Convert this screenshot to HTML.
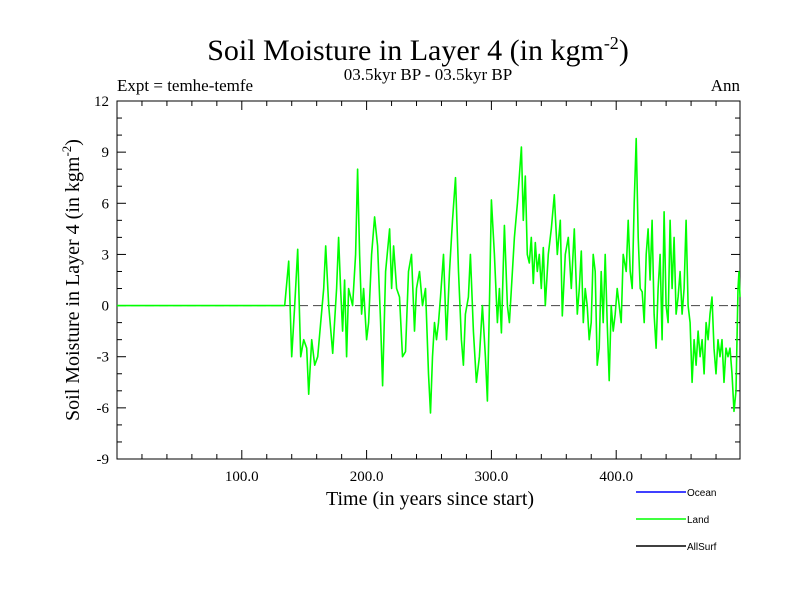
<!DOCTYPE html>
<html><head><meta charset="utf-8"><style>
body{margin:0;background:#fff;}
svg{display:block;font-family:"Liberation Serif",serif;}
</style></head><body>
<svg id="chart" width="800" height="600">
<text x="418" y="60" font-size="30" text-anchor="middle">Soil Moisture in Layer 4 (in kgm<tspan dy="-11" font-size="18">-2</tspan><tspan dy="11">)</tspan></text>
<text x="428" y="80" font-size="17" text-anchor="middle">03.5kyr BP - 03.5kyr BP</text>
<text x="117" y="91" font-size="17">Expt = temhe-temfe</text>
<text x="740" y="91" font-size="17" text-anchor="end">Ann</text>
<text transform="translate(79,280) rotate(-90)" font-size="20" text-anchor="middle">Soil Moisture in Layer 4 (in kgm<tspan dy="-8" font-size="13">-2</tspan><tspan dy="8">)</tspan></text>
<text x="430" y="505" font-size="20" text-anchor="middle">Time (in years since start)</text>
<g id="axes"></g>
<g id="series"></g>
<g font-family="Liberation Sans, sans-serif" font-size="10">
<line x1="636" y1="492" x2="686" y2="492" stroke="#0000ff" stroke-width="1.5"/>
<text x="687" y="496">Ocean</text>
<line x1="636" y1="519" x2="686" y2="519" stroke="#00ff00" stroke-width="1.5"/>
<text x="687" y="523">Land</text>
<line x1="636" y1="546" x2="686" y2="546" stroke="#000" stroke-width="1.5"/>
<text x="687" y="550">AllSurf</text>
</g>
</svg>
<script>
const years=[0,134.4,137.6,140,142.4,144.8,147.2,149.6,152,153.6,156,158.4,160.8,163.2,165.6,167.2,169.6,172.8,176,177.6,179.2,180.8,182.4,184,185.6,188.8,191.2,192.8,194.4,196,197.6,200,201.6,204,206.4,208.8,211.2,212.8,215.2,218.4,220,221.6,224,226.4,228.8,231.2,233.6,236,238.4,240,242.4,244.8,247.2,249.6,251.2,252.8,254.4,256,257.6,259.2,261.6,264,266.4,268.8,271.2,273.6,276,277.6,279.2,281.6,283.2,285.6,288,290.4,292.8,295.2,296.8,298.4,300,302.4,304.8,306.4,308,310.4,312.8,314.4,316,318.4,320.8,324,325.6,327.2,328.8,330.4,332,333.6,335.2,336.8,338.4,340,341.6,343.2,345.6,348,350.4,352.8,355.2,356.8,359.2,361.6,364,366.4,368.8,370.4,372,373.6,375.2,376.8,378.4,380,381.6,383.2,384.8,386.4,388,389.6,391.2,392.8,394.4,396,397.6,399.2,400.8,402.4,404,405.6,408,409.6,411.2,412.8,414.4,416,417.6,419.2,420.8,422.4,424,425.6,427.2,428.8,430.4,432,433.6,435.2,436.8,438.4,440,441.6,443.2,444.8,446.4,448,449.6,451.2,452.8,454.4,456,457.6,459.2,460.8,462.4,464,465.6,467.2,468.8,470.4,472,473.6,475.2,476.8,478.4,480,481.6,483.2,484.8,486.4,488,489.6,491.2,492.8,494.4,496,497.6,498.4,499.2];
const landValues=[0,0,2.6,-3,0,3.3,-3,-2,-2.5,-5.2,-2,-3.5,-3,-1,1,3.5,0,-2.8,1,4,1,-1.5,1.5,-3,1,0,3,8,3,-0.5,1,-2,-1,3,5.2,3.5,-1,-4.7,2,4.5,1,3.5,1,0.5,-3,-2.7,2,3,-1.5,1,2,0,1,-4,-6.3,-3,-1,-2,-1,0.5,3,-2,2,5,7.5,2,-2,-3.5,-0.5,0.5,3,-1.5,-4.5,-3,0,-3,-5.6,0,6.2,3,-1,1,-1.6,4.7,0,-1,1,4,6,9.3,5,7.6,3,2.5,4,1.3,3.7,2,3,1,3.4,0,3,4.5,6.5,3,5,-0.6,3,4,1,4.5,-0.5,1,3.2,-1,1,0,-2,-1,3,2,-3.5,-2.5,2,-1,3,-1,-4.4,0,-1.5,-0.5,1,0,-1,3,2,5,2,1,6,9.8,4,1,0.8,-1,3,4.5,1.5,5,-0.5,-2.5,1,3,-2,5.5,0,-1,5,1,4,-0.5,0.5,2,-0.5,1,5,0,-1,-4.5,-2,-3.5,-1.5,-3,-2,-4,-1,-2,-0.5,0.5,-2.5,-4,-2,-3,-2,-4.5,-2.5,-3,-2.5,-4,-6.2,-5,1,2,0.5];
const yTicks=[-9,-6,-3,0,3,6,9,12];
const xTicks=[100,200,300,400];
const xTickLabels=["100.0","200.0","300.0","400.0"];
const X0=117,X1=740,Y0=101,Y1=459;
const xMin=0,xMax=499.2,yMin=-9,yMax=12;
const sx=v=>X0+(v-xMin)/(xMax-xMin)*(X1-X0);
const sy=v=>Y1-(v-yMin)/(yMax-yMin)*(Y1-Y0);
const NS='http://www.w3.org/2000/svg';
const axes=document.getElementById('axes');
function mk(tag,attrs,parent){const e=document.createElementNS(NS,tag);for(const k in attrs)e.setAttribute(k,attrs[k]);parent.appendChild(e);return e;}
const frame=mk('rect',{x:X0,y:Y0,width:X1-X0,height:Y1-Y0,fill:'none',stroke:'#000','stroke-width':1},axes);


for(let v=yMin;v<=yMax;v++){
  const major=yTicks.includes(v);const L=major?9:5;const y=sy(v);
  const t1=mk('line',{x1:X0,y1:y,x2:X0+L,y2:y,stroke:'#000'},axes);
  
  
  const t2=mk('line',{x1:X1,y1:y,x2:X1-L,y2:y,stroke:'#000'},axes);
  
  
  if(major){const tx=mk('text',{x:X0-8,y:y+5,'font-size':15,'text-anchor':'end'},axes);tx.textContent=v;
  
  }
}
for(let v=20;v<500;v+=20){
  const major=xTicks.includes(v);const L=major?9:5;const x=sx(v);
  const t1=mk('line',{x1:x,y1:Y1,x2:x,y2:Y1-L,stroke:'#000'},axes);
  
  
  const t2=mk('line',{x1:x,y1:Y0,x2:x,y2:Y0+L,stroke:'#000'},axes);
  
  
}
xTicks.forEach((v,i)=>{const tx=mk('text',{x:sx(v),y:Y1+22,'font-size':15,'text-anchor':'middle'},axes);tx.textContent=xTickLabels[i];
  
  });
const zl=mk('line',{x1:X0,y1:sy(0),x2:X1,y2:sy(0),stroke:'#444','stroke-dasharray':'9,5'},axes);


const ser=document.getElementById('series');
const pts=years.map((y,i)=>sx(y).toFixed(1)+','+sy(landValues[i]).toFixed(1)).join(' ');
const pl=mk('polyline',{points:pts,fill:'none',stroke:'#00ff00','stroke-width':1.6,'stroke-linejoin':'round'},ser);


</script>
</body></html>
